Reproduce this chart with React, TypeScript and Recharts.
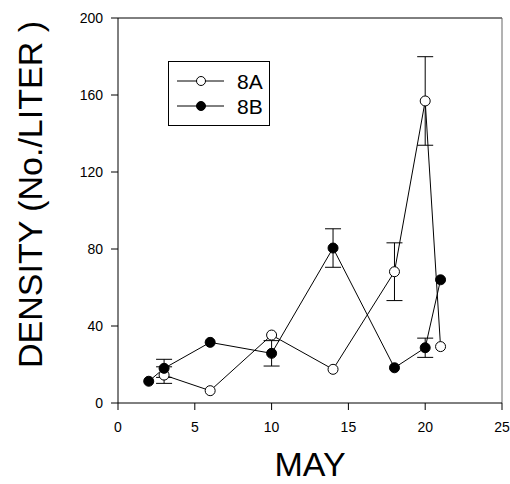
import { ErrorBar, Legend, Line, LineChart, ReferenceLine, XAxis, YAxis } from 'recharts';

const FONT = '"Liberation Sans", Arial, sans-serif';

// sampling days in May and densities (No./liter)
const days8A = [3, 6, 10, 14, 18, 20, 21];
const dens8A = [14.5, 6.4, 35.3, 17.5, 68.2, 156.9, 29.3];
const err8A = [4.3, 0, 0, 0, 15, 23, 0];

const days8B = [2, 3, 6, 10, 14, 18, 20, 21];
const dens8B = [11.3, 18, 31.5, 25.8, 80.5, 18.3, 28.7, 64];
const err8B = [0, 4.7, 0, 6.6, 10, 0, 5, 0];

const xTicks = [0, 5, 10, 15, 20, 25];
const yTicks = [0, 40, 80, 120, 160, 200];
const seriesNames = ['8A', '8B'];

const data8A = days8A.map((day, i) => ({ day, density: dens8A[i], err: err8A[i] }));
const data8B = days8B.map((day, i) => ({ day, density: dens8B[i], err: err8B[i] }));

function LegendBox() {
  return (
    <svg width={102} height={65} style={{ display: 'block' }}>
      <rect x={0.5} y={0.5} width={101} height={64} fill="#fff" stroke="#000" strokeWidth={1} />
      {seriesNames.map((name, i) => {
        const cy = 20 + i * 25;
        return (
          <g key={name}>
            <line x1={9} x2={56} y1={cy} y2={cy} stroke="#000" strokeWidth={1} />
            <circle cx={33} cy={cy} r={4.5} fill={i === 0 ? '#fff' : '#000'} stroke="#000" strokeWidth={1} />
            <text x={69} y={cy + 7.5} fontSize={21} fontFamily={FONT} fill="#000">
              {name}
            </text>
          </g>
        );
      })}
    </svg>
  );
}

export default function App() {
  return (
    <div style={{ position: 'absolute', left: 0, top: 0, background: '#fff' }}>
      <LineChart width={510} height={484} margin={{ top: 18, right: 8, bottom: 0, left: 0 }}>
        <XAxis
          type="number"
          dataKey="day"
          domain={[0, 25]}
          ticks={xTicks}
          allowDataOverflow
          height={81}
          tickSize={7}
          tickMargin={12}
          stroke="#000"
          tick={{ fill: '#000', fontSize: 14, fontFamily: FONT }}
          label={({ viewBox }: any) => (
            <text
              x={viewBox.x + viewBox.width / 2}
              y={viewBox.y + 73}
              textAnchor="middle"
              fontSize={34}
              fontFamily={FONT}
              fill="#000"
            >
              MAY
            </text>
          )}
        />
        <YAxis
          type="number"
          domain={[0, 200]}
          ticks={yTicks}
          allowDataOverflow
          width={118}
          tickSize={7}
          tickMargin={8}
          stroke="#000"
          tick={{ fill: '#000', fontSize: 14, fontFamily: FONT }}
          label={({ viewBox }: any) => {
            const cx = 42;
            const cy = viewBox.y + 176.5;
            return (
              <text
                x={cx}
                y={cy}
                transform={`rotate(-90, ${cx}, ${cy})`}
                textAnchor="middle"
                fontSize={34}
                fontFamily={FONT}
                fill="#000"
              >
                DENSITY (No./LITER )
              </text>
            );
          }}
        />
        <ReferenceLine y={200} stroke="#000" strokeWidth={1} />
        <ReferenceLine x={25} stroke="#666" strokeWidth={1} />
        <Legend
          layout="vertical"
          align="center"
          verticalAlign="middle"
          wrapperStyle={{ left: 168, top: 61, width: 'auto' }}
          content={() => <LegendBox />}
        />
        <Line
          data={data8A}
          dataKey="density"
          name="8A"
          stroke="#000"
          strokeWidth={1}
          dot={{ r: 5, fill: '#fff', stroke: '#000', strokeWidth: 1 }}
          isAnimationActive={false}
        >
          <ErrorBar dataKey="err" width={8} stroke="#000" strokeWidth={1} direction="y" />
        </Line>
        <Line
          data={data8B}
          dataKey="density"
          name="8B"
          stroke="#000"
          strokeWidth={1}
          dot={{ r: 5, fill: '#000', stroke: '#000', strokeWidth: 1 }}
          isAnimationActive={false}
        >
          <ErrorBar dataKey="err" width={8} stroke="#000" strokeWidth={1} direction="y" />
        </Line>
      </LineChart>
    </div>
  );
}
